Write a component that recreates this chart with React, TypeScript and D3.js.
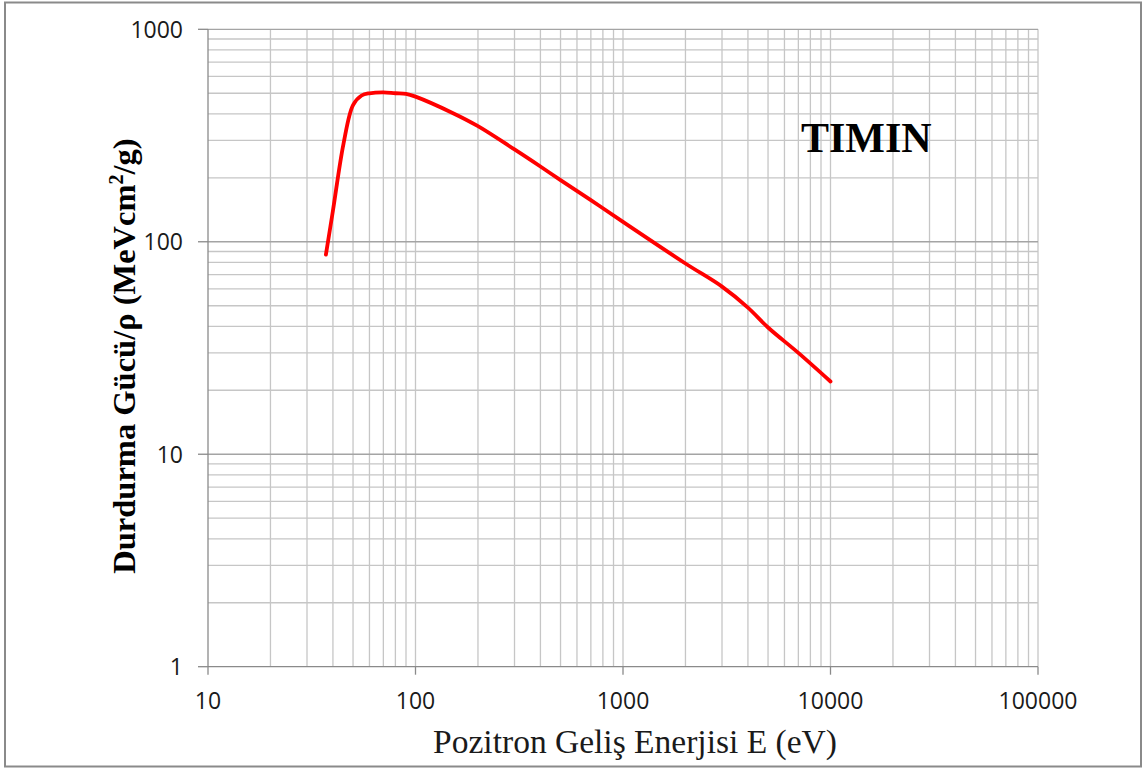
import React from "react";
import * as d3 from "d3";

// Positron incident energy (eV) and mass stopping power (MeV cm²/g) for thymine
const energy = [37, 40, 45, 50, 55, 60, 70, 80, 90, 100, 150, 200, 300, 400, 500, 700, 1000, 2000, 3000, 4000, 5000, 7000, 10000];
const stoppingPower = [87, 140, 290, 440, 488, 500, 505, 500, 497, 482, 405, 350, 272, 226, 195, 157, 124, 79, 61.5, 49, 39.5, 30, 22];

const xTicks = [10, 100, 1000, 10000, 100000];
const yTicks = [1, 10, 100, 1000];

const W = 1148;
const H = 769;
const M = { left: 208, right: 1038, top: 29.3, bottom: 666.7 };

export default function App() {
  const x = d3.scaleLog().domain([10, 100000]).range([M.left, M.right]);
  const y = d3.scaleLog().domain([1, 1000]).range([M.bottom, M.top]);

  const minorX: number[] = [];
  for (let d = 10; d < 100000; d *= 10) for (let k = 2; k <= 9; k++) minorX.push(d * k);
  const minorY: number[] = [];
  for (let d = 1; d < 1000; d *= 10) for (let k = 2; k <= 9; k++) minorY.push(d * k);

  const line = d3
    .line<number>()
    .x((_, i) => x(energy[i]))
    .y((d) => y(d))
    .curve(d3.curveCatmullRom.alpha(0.5));

  const tickFont = "'Open Sans', sans-serif";
  const serif = "'Liberation Serif', 'Times New Roman', serif";

  return (
    <svg width={W} height={H} style={{ position: "absolute", left: 0, top: 0, background: "#fff" }}>
      <rect x={5} y={2.5} width={1136} height={764} fill="#fff" stroke="#8a8a8a" strokeWidth={2} />

      {/* vertical grid */}
      {[...minorX, ...xTicks.slice(1)].map((v, i) => (
        <line key={"gx" + i} x1={x(v)} x2={x(v)} y1={M.top} y2={M.bottom} stroke="#c6c6c6" strokeWidth={1.3} />
      ))}
      {/* horizontal grid */}
      {minorY.map((v, i) => (
        <line key={"gy" + i} x1={M.left} x2={M.right} y1={y(v)} y2={y(v)} stroke="#c6c6c6" strokeWidth={1.3} />
      ))}
      {yTicks.slice(1).map((v, i) => (
        <line key={"gM" + i} x1={M.left} x2={M.right} y1={y(v)} y2={y(v)} stroke="#a4a4a4" strokeWidth={1.3} />
      ))}

      {/* axes */}
      <line x1={M.left} x2={M.left} y1={M.top} y2={M.bottom} stroke="#8a8a8a" strokeWidth={1.3} />
      <line x1={M.left} x2={M.right} y1={M.bottom} y2={M.bottom} stroke="#8a8a8a" strokeWidth={1.3} />
      {yTicks.map((v) => (
        <g key={"yt" + v}>
          <line x1={M.left - 10} x2={M.left} y1={y(v)} y2={y(v)} stroke="#8a8a8a" strokeWidth={1.3} />
          <text x={183} y={y(v)} dy="0.36em" textAnchor="end" fontFamily={tickFont} fontSize={23} fill="#1a1a1a">
            {v}
          </text>
        </g>
      ))}
      {xTicks.map((v) => (
        <g key={"xt" + v}>
          <line x1={x(v)} x2={x(v)} y1={M.bottom} y2={M.bottom + 8} stroke="#8a8a8a" strokeWidth={1.3} />
          <text x={x(v)} y={700.5} dy="0.36em" textAnchor="middle" fontFamily={tickFont} fontSize={23} fill="#1a1a1a">
            {v}
          </text>
        </g>
      ))}

      <path d={line(stoppingPower) || ""} fill="none" stroke="#ff0000" strokeWidth={3.8} strokeLinejoin="round" strokeLinecap="round" />

      <text x={801} y={152} fontFamily={serif} fontWeight="bold" fontSize={42} fill="#000">
        TIMIN
      </text>

      <text x={635} y={753} textAnchor="middle" fontFamily={serif} fontSize={33.5} fill="#1a1a1a">
        Pozitron Geliş Enerjisi E (eV)
      </text>

      <text
        transform={`translate(135, 356) rotate(-90)`}
        textAnchor="middle"
        fontFamily={serif}
        fontWeight="bold"
        fontSize={32.5}
        fill="#000"
      >
        Durdurma Gücü/ρ (MeVcm<tspan dy="-12" fontSize={20}>2</tspan>
        <tspan dy="12">/g)</tspan>
      </text>
    </svg>
  );
}
